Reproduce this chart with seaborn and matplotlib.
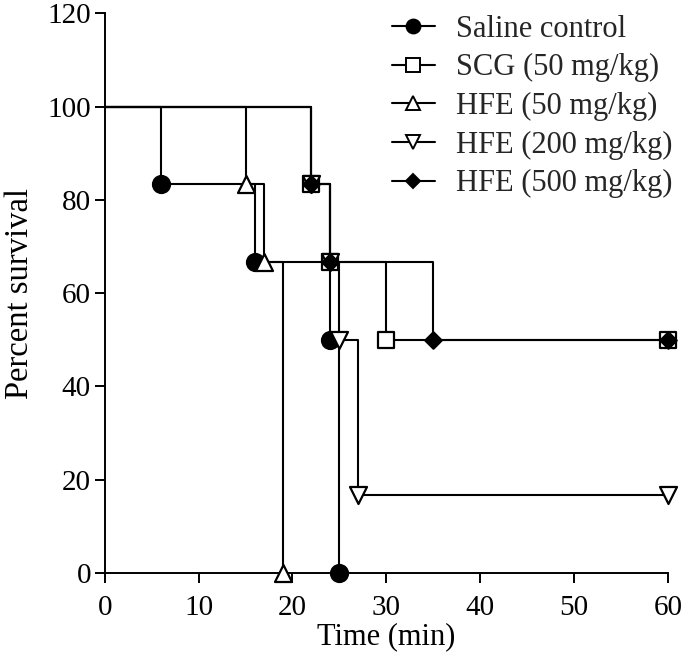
import matplotlib
matplotlib.use("Agg")
import matplotlib.pyplot as plt
from matplotlib.lines import Line2D
import seaborn as sns
import pandas as pd

# ---- data (time in min, percent survival at each event / censor point) ----
groups = ["Saline control", "SCG (50 mg/kg)", "HFE (50 mg/kg)",
          "HFE (200 mg/kg)", "HFE (500 mg/kg)"]
saline_t = [6, 16, 24, 25]
saline_s = [83.33, 66.67, 50.0, 0.0]
scg_t = [22, 24, 30, 60]
scg_s = [83.33, 66.67, 50.0, 50.0]
hfe50_t = [15, 17, 19]
hfe50_s = [83.33, 66.67, 0.0]
hfe200_t = [22, 24, 25, 27, 60]
hfe200_s = [83.33, 66.67, 50.0, 16.67, 16.67]
hfe500_t = [22, 24, 35, 60]
hfe500_s = [83.33, 66.67, 50.0, 50.0]
x_ticks = [0, 10, 20, 30, 40, 50, 60]
y_ticks = [0, 20, 40, 60, 80, 100, 120]

series_t = [saline_t, scg_t, hfe50_t, hfe200_t, hfe500_t]
series_s = [saline_s, scg_s, hfe50_s, hfe200_s, hfe500_s]

marker_style = {
    "Saline control": dict(marker="o", face="black", size=150),
    "SCG (50 mg/kg)": dict(marker="s", face="white", size=130),
    "HFE (50 mg/kg)": dict(marker="^", face="white", size=150),
    "HFE (200 mg/kg)": dict(marker="v", face="white", size=150),
    "HFE (500 mg/kg)": dict(marker="D", face="black", size=70),
}

sns.set_theme(style="ticks")
plt.rcParams["font.family"] = ["Liberation Serif", "DejaVu Serif"]

fig = plt.figure(figsize=(6.85, 6.63), dpi=100)
ax = fig.add_axes([0.153, 0.1357, 0.822, 0.8443])

for i, (g, t, s) in enumerate(zip(groups, series_t, series_s)):
    step_df = pd.DataFrame({"time": [0] + t, "surv": [100.0] + s})
    sns.lineplot(data=step_df, x="time", y="surv", ax=ax, color="black",
                 lw=1.5, drawstyle="steps-post", estimator=None, sort=False,
                 zorder=2 + i, clip_on=False)
    ev_df = pd.DataFrame({"time": t, "surv": s})
    ms = marker_style[g]
    sns.scatterplot(data=ev_df, x="time", y="surv", ax=ax,
                    marker=ms["marker"], s=ms["size"], color=ms["face"],
                    edgecolor="black", linewidth=1.6, zorder=10 + i,
                    clip_on=False)

ax.set_xlim(0, 60)
ax.set_ylim(0, 120)
ax.set_xticks(x_ticks)
ax.set_yticks(y_ticks)
ax.set_xticklabels([str(v) for v in x_ticks])
ax.set_yticklabels([str(v) for v in y_ticks])
ax.tick_params(direction="out", length=7, width=1.4, labelsize=21,
               colors="black")
ax.tick_params(axis="x", pad=9)
ax.tick_params(axis="y", pad=3)
for side in ["left", "bottom"]:
    ax.spines[side].set_linewidth(1.4)
    ax.spines[side].set_color("black")
sns.despine(ax=ax)
ax.set_xlabel("Time (min)", fontsize=22, color="black", labelpad=1)
ax.set_ylabel("Percent survival", fontsize=23.5, color="black", labelpad=9)

handles = []
for g in groups:
    ms = marker_style[g]
    handles.append(Line2D([0], [0], color="black", lw=1.5,
                          marker=ms["marker"], markerfacecolor=ms["face"],
                          markeredgecolor="black", markeredgewidth=1.4,
                          markersize=10 if ms["marker"] != "D" else 7))
leg = fig.legend(handles, groups, loc="upper left",
                 bbox_to_anchor=(0.572, 0.978), frameon=False, fontsize=22,
                 handlelength=1.4, handletextpad=0.7, labelspacing=0.315,
                 borderpad=0.0, borderaxespad=0.0)

fig.savefig("out.png", dpi=100)
